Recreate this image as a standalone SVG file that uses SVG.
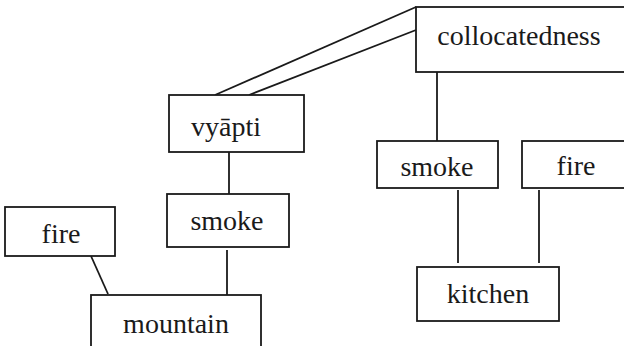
<svg xmlns="http://www.w3.org/2000/svg" width="624" height="346" viewBox="0 0 624 346">
<style>
.box{fill:#fff;stroke:#1a1a1a;stroke-width:1.8}
line{stroke:#1a1a1a;stroke-width:1.8}
text{font-family:"Liberation Serif",serif;font-size:28px;fill:#1a1a1a;text-anchor:middle}
</style>
<rect width="624" height="346" fill="#fff"/>
<g id="connectors">
<line x1="416" y1="7" x2="215" y2="95"/>
<line x1="416" y1="30" x2="249" y2="95"/>
<line x1="437" y1="72" x2="437" y2="141"/>
<line x1="229" y1="152" x2="229" y2="194"/>
<line x1="227" y1="250" x2="227" y2="295"/>
<line x1="91" y1="256" x2="108" y2="294"/>
<line x1="458" y1="190" x2="458" y2="263"/>
<line x1="539" y1="190" x2="539" y2="263"/>
</g>
<g id="collocatedness"><rect class="box" x="416" y="7" width="220" height="65"/><text x="519" y="45">collocatedness</text></g>
<g id="vyapti"><rect class="box" x="169" y="95" width="135" height="57"/><text x="226" y="136">vyāpti</text></g>
<g id="smoke-right"><rect class="box" x="377" y="141" width="121" height="47"/><text x="437" y="176">smoke</text></g>
<g id="fire-right"><rect class="box" x="522" y="141" width="110" height="47"/><text x="576" y="175">fire</text></g>
<g id="smoke-left"><rect class="box" x="167" y="194" width="122" height="53"/><text x="227" y="230">smoke</text></g>
<g id="fire-left"><rect class="box" x="5" y="207" width="110" height="49"/><text x="61" y="243">fire</text></g>
<g id="kitchen"><rect class="box" x="417" y="267" width="142" height="54"/><text x="488" y="303">kitchen</text></g>
<g id="mountain"><rect class="box" x="91" y="295" width="170" height="60"/><text x="176" y="333">mountain</text></g>
</svg>
